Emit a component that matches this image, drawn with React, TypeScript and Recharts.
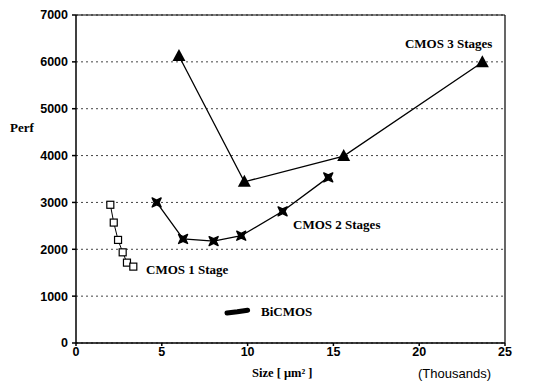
import React from "react";
import {
  CartesianGrid,
  Line,
  LineChart,
  ReferenceDot,
  ReferenceLine,
  XAxis,
  YAxis,
} from "recharts";

// sizes in thousands of µm², perf values
const cmos1Size = [2.0, 2.2, 2.45, 2.72, 2.97, 3.34];
const cmos1Perf = [2950, 2570, 2200, 1935, 1715, 1630];

const cmos2Size = [4.7, 6.24, 8.02, 9.63, 12.04, 14.7];
const cmos2Perf = [3000, 2220, 2175, 2290, 2810, 3535];

const cmos3Size = [6.0, 9.81, 15.6, 23.68];
const cmos3Perf = [6125, 3440, 3990, 5990];

const bicmosSize = [8.8, 9.4, 10.0];
const bicmosPerf = [640, 665, 700];

const xTicks = [0, 5, 10, 15, 20, 25];
const yTicks = [0, 1000, 2000, 3000, 4000, 5000, 6000, 7000];

const seriesLabels = [
  { text: "CMOS 3 Stages", x: 19.17, y: 6380 },
  { text: "CMOS 2 Stages", x: 12.65, y: 2520 },
  { text: "CMOS 1 Stage", x: 4.08, y: 1560 },
  { text: "BiCMOS", x: 10.78, y: 660 },
];

const toPoints = (xs: number[], ys: number[]) => xs.map((x, i) => ({ x, y: ys[i] }));

const serif = "'Liberation Serif', 'DejaVu Serif', serif";
const sans = "'Liberation Sans', Arial, sans-serif";

type DotProps = { cx?: number; cy?: number; index?: number };

function SquareDot({ cx = 0, cy = 0 }: DotProps) {
  return <rect x={cx - 3.5} y={cy - 3.5} width={7} height={7} fill="#fff" stroke="#000" strokeWidth={1.2} />;
}

// filled bow-tie cross
function CrossDot({ cx = 0, cy = 0 }: DotProps) {
  const r = 4.5;
  const w = 2.4;
  return (
    <path
      d={`M${cx - r},${cy - r} L${cx},${cy - w} L${cx + r},${cy - r} L${cx + w},${cy} L${cx + r},${cy + r} L${cx},${cy + w} L${cx - r},${cy + r} L${cx - w},${cy} Z`}
      fill="#000"
      stroke="#000"
      strokeWidth={1.4}
      strokeLinejoin="round"
    />
  );
}

function TriangleDot({ cx = 0, cy = 0 }: DotProps) {
  return <path d={`M${cx},${cy - 7} L${cx + 6.5},${cy + 5} L${cx - 6.5},${cy + 5} Z`} fill="#000" />;
}

function LabelText(text: string) {
  return (p: { cx?: number; cy?: number }) => (
    <text
      x={p.cx}
      y={p.cy}
      dy={4}
      textAnchor="start"
      fontFamily={serif}
      fontWeight="bold"
      fontSize={13}
      fill="#000"
    >
      {text}
    </text>
  );
}

export default function App() {
  const tick = { fill: "#000", fontSize: 12.5, fontWeight: "bold" as const, fontFamily: sans };
  return (
    <div style={{ position: "absolute", left: 0, top: 0, width: 535, height: 383, background: "#fff" }}>
      <LineChart width={535} height={383} margin={{ top: 15, right: 30, bottom: 10, left: 0 }}>
        <CartesianGrid vertical={false} stroke="#444" strokeDasharray="2 3" />
        <XAxis
          type="number"
          dataKey="x"
          domain={[0, 25]}
          ticks={xTicks}
          tick={tick}
          tickSize={3}
          tickMargin={1}
          stroke="#000"
          strokeWidth={1.5}
          height={30}
        />
        <YAxis
          type="number"
          dataKey="y"
          domain={[0, 7000]}
          ticks={yTicks}
          tick={tick}
          tickSize={4}
          tickMargin={4}
          stroke="#000"
          strokeWidth={1.5}
          width={76}
        />
        <ReferenceLine y={7000} stroke="#000" strokeWidth={1.2} />
        <ReferenceLine x={25} stroke="#000" strokeWidth={1.2} />
        <Line
          data={toPoints(cmos1Size, cmos1Perf)}
          dataKey="y"
          stroke="#000"
          strokeWidth={1}
          dot={(p: DotProps) => <SquareDot key={`s${p.index}`} cx={p.cx} cy={p.cy} />}
          isAnimationActive={false}
        />
        <Line
          data={toPoints(cmos2Size, cmos2Perf)}
          dataKey="y"
          stroke="#000"
          strokeWidth={1.3}
          dot={(p: DotProps) => <CrossDot key={`c${p.index}`} cx={p.cx} cy={p.cy} />}
          isAnimationActive={false}
        />
        <Line
          data={toPoints(cmos3Size, cmos3Perf)}
          dataKey="y"
          stroke="#000"
          strokeWidth={1.3}
          dot={(p: DotProps) => <TriangleDot key={`t${p.index}`} cx={p.cx} cy={p.cy} />}
          isAnimationActive={false}
        />
        <Line
          data={toPoints(bicmosSize, bicmosPerf)}
          dataKey="y"
          stroke="#000"
          strokeWidth={5}
          strokeLinecap="round"
          dot={false}
          isAnimationActive={false}
        />
        {seriesLabels.map((l) => (
          <ReferenceDot key={l.text} x={l.x} y={l.y} r={0} shape={LabelText(l.text)} />
        ))}
      </LineChart>
      <div style={{ position: "absolute", left: 10, top: 120, fontFamily: serif, fontWeight: "bold", fontSize: 13 }}>
        Perf
      </div>
      <div style={{ position: "absolute", left: 252, top: 366, fontFamily: serif, fontWeight: "bold", fontSize: 12.5 }}>
        Size [ μm² ]
      </div>
      <div style={{ position: "absolute", left: 418, top: 366, fontFamily: sans, fontSize: 13 }}>(Thousands)</div>
    </div>
  );
}
